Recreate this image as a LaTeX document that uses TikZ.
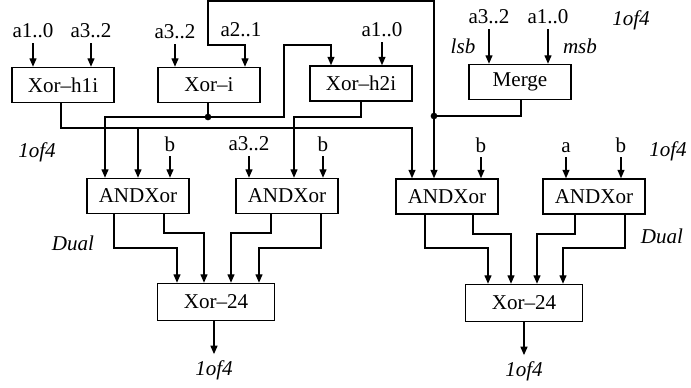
\documentclass[tikz,border=0pt]{standalone}
\usepackage{fontspec}
\setmainfont{Liberation Serif}
\usetikzlibrary{arrows.meta}

\begin{document}
\begin{tikzpicture}[
    x=0.02cm, y=-0.02cm,
    font=\fontsize{12}{14}\selectfont,
    block/.style={rectangle, draw, line width=0.9pt, minimum width=2.04cm, minimum height=0.7cm, inner sep=0pt},
    wide/.style={block, minimum width=2.34cm, minimum height=0.74cm},
    sig/.style={inner sep=2.5pt, anchor=south},
    note/.style={font=\fontsize{12}{14}\selectfont\itshape},
    wire/.style={line width=0.7pt},
    arrow/.style={wire, -{Triangle[length=4.8pt,width=4pt]}},
    junction/.style={circle, fill, inner sep=0pt, minimum size=3.8pt}
]
\useasboundingbox (0,0) rectangle (691,387);

% blocks
\node[block] (h1i) at (63,85) {Xor--h1i};
\node[block] (xi) at (209,85) {Xor--i};
\node[block] (h2i) at (361,83.5) {Xor--h2i};
\node[block] (merge) at (520,82) {Merge};

\node[block] (andA) at (138,196) {ANDXor};
\node[block] (andB) at (287,196) {ANDXor};
\node[block] (andC) at (447,196.5) {ANDXor};
\node[block] (andD) at (594,196.5) {ANDXor};

\node[wide] (xorL) at (216,302) {Xor--24};
\node[wide] (xorR) at (524,303) {Xor--24};

% inputs
\node[sig] (h1a) at (33,43) {a1..0};
\node[sig] (h1b) at (91,43) {a3..2};
\node[sig] (xia) at (175,44) {a3..2};
\node[sig] (h2b) at (382,42) {a1..0};
\node[sig] (mga) at (489,29) {a3..2};
\node[sig] (mgb) at (548,29) {a1..0};
\node[sig] (anb) at (170,156) {b};
\node[sig] (bna) at (249,156) {a3..2};
\node[sig] (bnb) at (323,156) {b};
\node[sig] (cnb) at (481,157) {b};
\node[sig] (dna) at (566,157) {a};
\node[sig] (dnb) at (621,157) {b};

\draw[arrow] (h1a) -- (h1a |- h1i.north);
\draw[arrow] (h1b) -- (h1b |- h1i.north);
\draw[arrow] (xia) -- (xia |- xi.north);
\draw[arrow] (h2b) -- (h2b |- h2i.north);
\draw[arrow] (mga) -- (mga |- merge.north);
\draw[arrow] (mgb) -- (mgb |- merge.north);
\draw[arrow] (anb) -- (anb |- andA.north);
\draw[arrow] (bna) -- (bna |- andB.north);
\draw[arrow] (bnb) -- (bnb |- andB.north);
\draw[arrow] (cnb) -- (cnb |- andC.north);
\draw[arrow] (dna) -- (dna |- andD.north);
\draw[arrow] (dnb) -- (dnb |- andD.north);

% notes
\node (xil) at (241,30) {a2..1};
\node[note] (lsb) at (463,46) {lsb};
\node[note] (msb) at (580,46) {msb};
\node[note] (ct) at (631,20) {1of4};
\node[note] (cl) at (37,152) {1of4};
\node[note] (cr) at (668,151) {1of4};
\node[note] (dl) at (73,243) {Dual};
\node[note] (dr) at (662,236) {Dual};
\node[note] (oL) at (214,370) {1of4};
\node[note] (oR) at (524,371) {1of4};

% Xor-h1i output
\draw[arrow] (h1i.south -| 61,0) |- (412,128) -- (andC.north -| 412,0);
\draw[arrow] (138,128) -- (andA.north -| 138,0);

% Xor-i output
\coordinate (jx) at (208,117);
\draw[wire] (xi.south -| 208,0) -- (jx);
\draw[arrow] (jx) -| (andA.north -| 105,0);
\draw[arrow] (jx) -| (284,45) -| (h2i.north -| 331,0);

% Xor-h2i output
\draw[arrow] (h2i.south -| 361,0) |- (294,117) -- (andB.north -| 294,0);

% Merge output
\coordinate (jm) at (434,116);
\draw[wire] (merge.south -| 521,0) |- (jm);
\draw[arrow] (jm) -- (andC.north -| 434,0);
\draw[arrow] (jm) -- (434,1) -| (208,45) -| (xi.north -| 245,0);

\node[junction] (dx) at (jx) {};
\node[junction] (dm) at (jm) {};

% ANDXor outputs
\draw[arrow] (andA.south -| 114,0) |- (177,248) -- (xorL.north -| 177,0);
\draw[arrow] (andA.south -| 164,0) |- (204,233) -- (xorL.north -| 204,0);
\draw[arrow] (andB.south -| 271,0) |- (231,233) -- (xorL.north -| 231,0);
\draw[arrow] (andB.south -| 321,0) |- (259,248) -- (xorL.north -| 259,0);
\draw[arrow] (andC.south -| 425,0) |- (488,248) -- (xorR.north -| 488,0);
\draw[arrow] (andC.south -| 473,0) |- (511,234) -- (xorR.north -| 511,0);
\draw[arrow] (andD.south -| 575,0) |- (537,234) -- (xorR.north -| 537,0);
\draw[arrow] (andD.south -| 625,0) |- (563,248) -- (xorR.north -| 563,0);

% Xor-24 outputs
\draw[arrow] (xorL.south -| oL) -- (oL.north);
\draw[arrow] (xorR.south -| oR) -- (oR.north);

\end{tikzpicture}
\end{document}
